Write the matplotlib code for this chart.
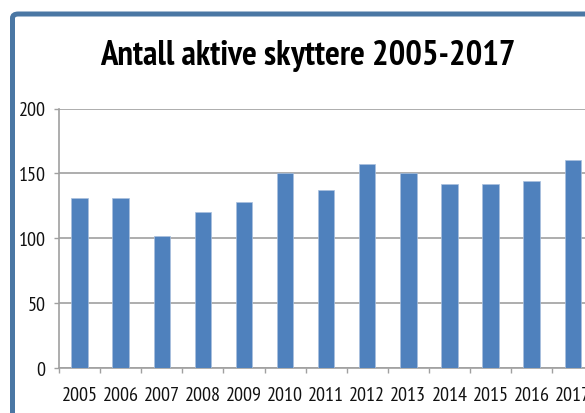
import matplotlib
matplotlib.use("Agg")
import matplotlib.pyplot as plt
from matplotlib.patches import FancyBboxPatch
from matplotlib.ticker import FixedLocator

years = ["2005", "2006", "2007", "2008", "2009", "2010", "2011",
         "2012", "2013", "2014", "2015", "2016", "2017"]
values = [131, 131, 102, 120, 128, 150, 137, 157, 150, 142, 142, 144, 160]
yticks = [0, 50, 100, 150, 200]
title = "Antall aktive skyttere 2005-2017"

FONT = ["PT Sans Narrow", "DejaVu Sans"]
W, H = 585, 414
fig = plt.figure(figsize=(W / 100, H / 100), dpi=100)
fig.patch.set_facecolor("white")

# chart frame (blue border, extends off the figure to the right/bottom)
frame = FancyBboxPatch((12.5 / W, -0.2), 1.2, (H - 15) / H + 0.2,
                       boxstyle="round,pad=0,rounding_size=0.01",
                       transform=fig.transFigure, facecolor="white",
                       edgecolor="#4a77a4", linewidth=3.6, zorder=-5)
fig.patches.append(frame)

left, right = 59, 59 + 13 * 41.1
bottom, top = 369, 109.5
ax = fig.add_axes([left / W, (H - bottom) / H, (right - left) / W, (bottom - top) / H])
ax.set_facecolor("none")
ax.set_zorder(2)

x = list(range(len(years)))
ax.bar(x, values, width=0.4, color="#4f81bd", edgecolor="#a9c0de",
       linewidth=0.5, zorder=3)

ax.set_xlim(-0.5, len(years) - 0.5)
ax.set_ylim(0, 200)
ax.set_yticks(yticks)
ax.set_yticklabels([str(v) for v in yticks], family=FONT, fontsize=14.5, color="#111111")
ax.set_xticks(x)
ax.set_xticklabels(years, family=FONT, fontsize=14.5, color="#111111")
ax.xaxis.set_minor_locator(FixedLocator([i - 0.5 for i in range(len(years) + 1)]))
ax.tick_params(axis="x", which="major", length=0, pad=13)
ax.tick_params(axis="x", which="minor", length=3.6, width=1.0, color="#a0a0a0", direction="out")
ax.tick_params(axis="y", length=3.6, width=1.0, color="#a0a0a0", pad=6)

ax.grid(axis="y", color="#a0a0a0", linewidth=1.2, zorder=0)
ax.set_axisbelow(True)
for s in ["top", "right"]:
    ax.spines[s].set_visible(False)
for s in ["left", "bottom"]:
    ax.spines[s].set_color("#a0a0a0")
    ax.spines[s].set_linewidth(1.2)

fig.text(308 / W, (H - 65) / H, title, ha="center", va="baseline",
         family=FONT, fontsize=25, fontweight="bold", color="black")

fig.savefig("out.png", dpi=100)
